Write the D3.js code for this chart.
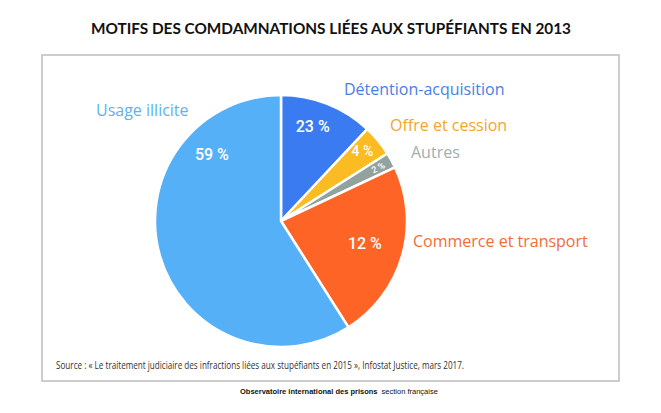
<!DOCTYPE html>
<html lang="fr">
  <head>
    <meta charset="utf-8" />
    <title>Motifs des condamnations liées aux stupéfiants en 2013</title>
    <script src="https://d3js.org/d3.v7.min.js"></script>
    <style>
      body { margin: 0; background: #fff; }
      .title { font-family: "Lato", sans-serif; font-weight: 700; font-size: 15px; fill: #111; }
      .name { font-family: "Open Sans", sans-serif; font-size: 16px; }
      .pct { font-family: "Roboto", sans-serif; font-weight: 500; fill: #fff; }
      .source { font-family: "Liberation Sans Narrow", "Open Sans", sans-serif; font-size: 11px; fill: #333; }
      .footer { font-family: "Liberation Sans Narrow", sans-serif; font-size: 7.5px; fill: #111; }
    </style>
  </head>
  <body>
    <svg width="661" height="413"></svg>
    <script>
      const categories = ["Détention-acquisition", "Offre et cession", "Autres", "Commerce et transport", "Usage illicite"];
      const values = [12, 4, 2, 23, 59];
      const printedLabels = ["23 %", "4 %", "2 %", "12 %", "59 %"];
      const sliceColours = ["#3a7bf2", "#fbbb22", "#92a39f", "#fd6425", "#55b0f8"];
      const textColours = ["#4a7ee6", "#f2a531", "#a2aeb2", "#f36c3b", "#5cb2f2"];

      const svg = d3.select("svg");
      const cx = 281, cy = 221, radius = 126;

      svg.append("text")
        .attr("class", "title")
        .attr("x", 331)
        .attr("y", 34)
        .attr("text-anchor", "middle")
        .attr("textLength", 480)
        .attr("lengthAdjust", "spacingAndGlyphs")
        .text("MOTIFS DES COMDAMNATIONS LIÉES AUX STUPÉFIANTS EN 2013");

      // frame
      svg.append("rect")
        .attr("x", 42).attr("y", 55)
        .attr("width", 577).attr("height", 326)
        .attr("fill", "none")
        .attr("stroke", "#bdbdbd")
        .attr("stroke-width", 1.5);

      const pie = d3.pie().sort(null).value((d) => d);
      const arcs = pie(values);
      const arc = d3.arc().innerRadius(0).outerRadius(radius);

      const g = svg.append("g").attr("transform", `translate(${cx},${cy})`);

      g.selectAll("path")
        .data(arcs)
        .join("path")
        .attr("d", arc)
        .attr("fill", (d, i) => sliceColours[i])
        .attr("stroke", "#fff")
        .attr("stroke-width", 2.5)
        .attr("stroke-linejoin", "round");

      // percentage labels inside the slices (angle shift in degrees, radius factor)
      const pctShift = [-3, -1, 0, -1, 60];
      const pctRadius = [0.79, 0.85, 0.88, 0.69, 0.76];
      const pctSize = [16, 14, 9, 16, 16];
      g.selectAll(".pct")
        .data(arcs)
        .join("text")
        .attr("class", "pct")
        .attr("transform", (d, i) => {
          const a = (d.startAngle + d.endAngle) / 2 + (pctShift[i] * Math.PI) / 180;
          const r = radius * pctRadius[i];
          const rot = i === 2 ? -25 : 0;
          return `translate(${r * Math.sin(a)},${-r * Math.cos(a)}) rotate(${rot})`;
        })
        .attr("dy", "0.35em")
        .attr("text-anchor", "middle")
        .style("font-size", (d, i) => pctSize[i] + "px")
        .text((d, i) => printedLabels[i]);

      // category names outside the pie
      const namePos = [[344, 95], [390, 131], [411, 158], [413, 247], [96, 116]];
      svg.selectAll(".name")
        .data(categories)
        .join("text")
        .attr("class", "name")
        .attr("x", (d, i) => namePos[i][0])
        .attr("y", (d, i) => namePos[i][1])
        .attr("fill", (d, i) => textColours[i])
        .text((d) => d);

      svg.append("text")
        .attr("class", "source")
        .attr("x", 56)
        .attr("y", 369)
        .attr("textLength", 408)
        .attr("lengthAdjust", "spacingAndGlyphs")
        .text("Source : « Le traitement judiciaire des infractions liées aux stupéfiants en 2015 », Infostat Justice, mars 2017.");

      // footer: bold name, then the lighter section text right after it
      const footerName = svg.append("text")
        .attr("class", "footer")
        .attr("x", 240)
        .attr("y", 394)
        .attr("font-weight", 700)
        .text("Observatoire international des prisons");
      const nameEnd = 240 + footerName.node().getComputedTextLength();
      svg.append("text")
        .attr("class", "footer")
        .attr("x", nameEnd + 4)
        .attr("y", 394)
        .attr("fill", "#777")
        .attr("font-size", "6.5px")
        .text("section française");
    </script>
  </body>
</html>
